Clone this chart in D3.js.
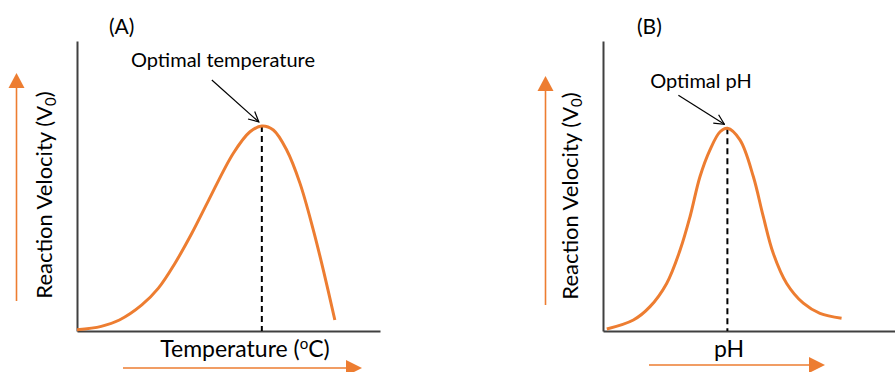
<!DOCTYPE html>
<html>
<head>
<meta charset="utf-8">
<script src="https://cdn.jsdelivr.net/npm/d3@7/dist/d3.min.js"></script>
<style>
  html, body { margin: 0; padding: 0; background: #fff; }
  svg { display: block; }
  text { font-family: Lato, "Open Sans", sans-serif; fill: #000; }
</style>
</head>
<body>
<svg id="chart" width="895" height="372"></svg>
<script>
// Panel A: reaction velocity vs temperature (relative units)
const tempX = [0, 8, 14, 21.4, 26.8, 32.3, 37.9, 43.3, 51.6, 57.1, 61.0, 64.8, 69.2, 73.6, 78.0, 81.3, 85.1];
const tempV = [0.4, 1.6, 3.8, 9.0, 14.7, 23.3, 33.7, 44.8, 61.3, 68.7, 70.7, 69.3, 62.4, 50.9, 34.8, 21.0, 3.8];

// Panel B: reaction velocity vs pH (relative units)
const phX = [1.3, 10.4, 16.1, 21.8, 26.4, 29.8, 33.2, 36.6, 40.1, 42.6, 46.9, 51.5, 54.9, 58.3, 62.9, 68.6, 74.3, 81.7];
const phV = [0.7, 3.8, 8.4, 16.4, 27.9, 39.4, 53.2, 62.4, 68.7, 69.9, 65.9, 53.2, 39.4, 26.8, 16.4, 9.6, 6.1, 4.4];

const panelTitles = ["(A)", "(B)"];
const xTitles = ["Temperature (", "pH"];
const optimumLabels = ["Optimal temperature", "Optimal pH"];

const ORANGE = "#ED7D31";
const svg = d3.select("#chart");

const defs = svg.append("defs");
defs.append("marker")
  .attr("id", "openHead")
  .attr("viewBox", "0 0 12 12")
  .attr("refX", 11).attr("refY", 6)
  .attr("markerWidth", 12).attr("markerHeight", 12)
  .attr("markerUnits", "userSpaceOnUse")
  .attr("orient", "auto")
  .append("path")
  .attr("d", "M1,1 L11,6 L1,11")
  .attr("fill", "none").attr("stroke", "#000").attr("stroke-width", 1.2);

function drawPanel(cfg) {
  const g = svg.append("g");
  const x = d3.scaleLinear().domain([0, 100]).range([cfg.left, cfg.right]);
  const y = d3.scaleLinear().domain([0, 100]).range([331, 41]);

  // axes: plain lines, no ticks
  const xAxis = d3.axisBottom(x).ticks(0).tickSize(0).tickSizeOuter(0);
  const yAxis = d3.axisLeft(y).ticks(0).tickSize(0).tickSizeOuter(0);
  g.append("g").attr("transform", `translate(0,${y(0)})`).call(xAxis)
    .select(".domain").attr("stroke", "#404040").attr("stroke-width", 2);
  g.append("g").attr("transform", `translate(${x(0)},0)`).call(yAxis)
    .select(".domain").attr("stroke", "#404040").attr("stroke-width", 2);

  const pts = cfg.xs.map((d, i) => [d, cfg.vs[i]]);
  const line = d3.line().x(d => x(d[0])).y(d => y(d[1])).curve(d3.curveCatmullRom.alpha(0.5));

  // optimum: the highest point of the series
  const peak = pts.reduce((a, b) => (b[1] > a[1] ? b : a));
  const px = x(peak[0]), py = y(peak[1]);

  g.append("line")
    .attr("x1", px).attr("x2", px).attr("y1", py).attr("y2", y(0))
    .attr("stroke", "#000").attr("stroke-width", 2).attr("stroke-dasharray", "6,4");

  g.append("path").datum(pts)
    .attr("d", line)
    .attr("fill", "none").attr("stroke", ORANGE).attr("stroke-width", 3);

  // annotation arrow to the peak
  g.append("line")
    .attr("x1", px + cfg.ann.dx).attr("y1", py + cfg.ann.dy)
    .attr("x2", px - 3).attr("y2", py - 4)
    .attr("stroke", "#000").attr("stroke-width", 1.2)
    .attr("marker-end", "url(#openHead)");

  g.append("text")
    .attr("x", cfg.ann.tx).attr("y", cfg.ann.ty)
    .attr("text-anchor", "middle").attr("font-size", 20)
    .text(cfg.annText);

  g.append("text")
    .attr("x", cfg.titleX).attr("y", 34)
    .attr("font-size", 21)
    .text(cfg.title);

  // y-axis title
  const yt = g.append("text")
    .attr("transform", `translate(${cfg.yTitleX},${cfg.yTitleY}) rotate(-90)`)
    .attr("text-anchor", "middle").attr("font-size", 22);
  yt.append("tspan").text("Reaction Velocity (V");
  yt.append("tspan").attr("font-size", 15).attr("dy", 4).text("0");
  yt.append("tspan").attr("dy", -4).text(")");

  // x-axis title
  const xt = g.append("text")
    .attr("x", cfg.xTitleX).attr("y", 357)
    .attr("text-anchor", "middle").attr("font-size", 23);
  xt.append("tspan").text(cfg.xTitle);
  if (cfg.degree) {
    xt.append("tspan").attr("font-size", 15).attr("dy", -8).text("o");
    xt.append("tspan").attr("dy", 8).text("C)");
  }

  // orange direction arrows
  const ax = cfg.upArrow;
  g.append("line").attr("x1", ax.x).attr("x2", ax.x).attr("y1", ax.y0).attr("y2", ax.y1 + 12)
    .attr("stroke", ORANGE).attr("stroke-width", 1.6);
  g.append("path")
    .attr("d", `M${ax.x},${ax.y1} L${ax.x - 8},${ax.y1 + 15} L${ax.x + 8},${ax.y1 + 15} Z`)
    .attr("fill", ORANGE);

  const rx = cfg.rightArrow;
  g.append("line").attr("x1", rx.x0).attr("x2", rx.x1 - 12).attr("y1", rx.y).attr("y2", rx.y)
    .attr("stroke", ORANGE).attr("stroke-width", 1.6);
  g.append("path")
    .attr("d", `M${rx.x1},${rx.y} L${rx.x1 - 16},${rx.y - 8} L${rx.x1 - 16},${rx.y + 8} Z`)
    .attr("fill", ORANGE);
}

drawPanel({
  left: 77, right: 380,
  xs: tempX, vs: tempV,
  title: panelTitles[0], titleX: 109,
  annText: optimumLabels[0], ann: { dx: -50, dy: -46, tx: 223, ty: 67 },
  yTitleX: 52, yTitleY: 195,
  xTitle: xTitles[0], xTitleX: 245, degree: true,
  upArrow: { x: 16.5, y0: 301, y1: 73 },
  rightArrow: { x0: 123, x1: 362, y: 368 }
});

drawPanel({
  left: 603, right: 895,
  xs: phX, vs: phV,
  title: panelTitles[1], titleX: 637,
  annText: optimumLabels[1], ann: { dx: -49, dy: -33, tx: 701, ty: 88 },
  yTitleX: 578, yTitleY: 196,
  xTitle: xTitles[1], xTitleX: 729, degree: false,
  upArrow: { x: 545.5, y0: 305, y1: 76 },
  rightArrow: { x0: 649, x1: 825, y: 365 }
});
</script>
</body>
</html>
